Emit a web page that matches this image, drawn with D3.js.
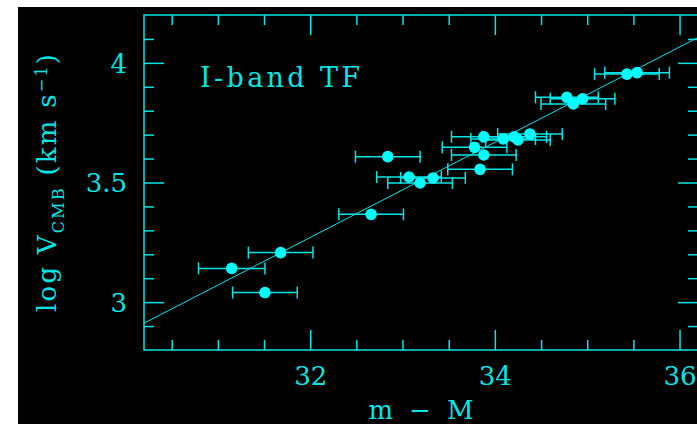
<!DOCTYPE html>
<html>
<head>
<meta charset="utf-8">
<script src="https://cdn.jsdelivr.net/npm/d3@7"></script>
<style>
  body { margin: 0; background: #fff; }
  svg { display: block; }
</style>
</head>
<body>
<div id="chart"></div>
<script>
// distance modulus (m - M) of each galaxy
var distMod = [31.15, 31.68, 31.51, 32.66, 32.84, 33.07, 33.19, 33.33, 33.78, 33.88, 33.88,
               33.84, 34.09, 34.21, 34.25, 34.38, 34.78, 34.85, 34.95, 35.43, 35.54];
// log V_CMB
var logV = [3.141, 3.207, 3.040, 3.367, 3.608, 3.523, 3.498, 3.519, 3.647, 3.691, 3.615,
            3.555, 3.682, 3.691, 3.678, 3.703, 3.856, 3.828, 3.850, 3.953, 3.959];
// error in m - M
var distErr = [0.36, 0.35, 0.35, 0.35, 0.35, 0.35, 0.35, 0.35, 0.35, 0.35, 0.35,
               0.35, 0.35, 0.35, 0.35, 0.35, 0.34, 0.35, 0.35, 0.35, 0.35];

// fitted TF line end points
var fitX = [30.2, 36.2];
var fitY = [2.912, 4.106];

var xMajorTicks = [32, 34, 36];
var xMinorTicks = [30.5, 31, 31.5, 32.5, 33, 33.5, 34.5, 35, 35.5];
var yMajorTicks = [3, 3.5, 4];
var yMinorTicks = [2.9, 3.1, 3.2, 3.3, 3.4, 3.6, 3.7, 3.8, 3.9, 4.1];

var W = 697, H = 424;
var margin = { top: 15, right: -1, bottom: 74, left: 144 },
    width = W - margin.left - margin.right,
    height = H - margin.top - margin.bottom;

var cyan = "#00e6e6", dotCol = "#00ffff";
var font = "'DejaVu Serif', serif";

var svg = d3.select("#chart").append("svg")
    .attr("width", W)
    .attr("height", H);

svg.append("rect")
    .attr("x", 18).attr("y", 7)
    .attr("width", W - 18).attr("height", H - 7)
    .attr("fill", "#000");

var g = svg.append("g")
    .attr("transform", "translate(" + margin.left + "," + margin.top + ")");

var x = d3.scaleLinear().domain([30.2, 36.2]).range([0, width]);
var y = d3.scaleLinear().domain([2.8, 4.2]).range([height, 0]);

function styleAxis(sel) {
    sel.select(".domain").remove();
    sel.selectAll("line").attr("stroke", cyan).attr("stroke-width", 1.5);
    sel.selectAll("text").attr("fill", cyan).style("font-family", font).style("font-size", "26px");
}

// bottom
g.append("g").attr("transform", "translate(0," + height + ")")
    .call(d3.axisBottom(x).tickValues(xMajorTicks).tickSizeInner(-20).tickSizeOuter(0)
        .tickPadding(10).tickFormat(d3.format("d")))
    .call(styleAxis)
    .selectAll("text").attr("dy", "0").attr("y", 35);
g.append("g").attr("transform", "translate(0," + height + ")")
    .call(d3.axisBottom(x).tickValues(xMinorTicks).tickSizeInner(-10).tickSizeOuter(0).tickFormat(""))
    .call(styleAxis);
// top
g.append("g")
    .call(d3.axisTop(x).tickValues(xMajorTicks).tickSizeInner(-20).tickSizeOuter(0).tickFormat(""))
    .call(styleAxis);
g.append("g")
    .call(d3.axisTop(x).tickValues(xMinorTicks).tickSizeInner(-10).tickSizeOuter(0).tickFormat(""))
    .call(styleAxis);
// left
g.append("g")
    .call(d3.axisLeft(y).tickValues(yMajorTicks).tickSizeInner(-20).tickSizeOuter(0)
        .tickPadding(17).tickFormat(d3.format("")))
    .call(styleAxis)
    .selectAll("text").attr("dy", "0.36em");
g.append("g")
    .call(d3.axisLeft(y).tickValues(yMinorTicks).tickSizeInner(-10).tickSizeOuter(0).tickFormat(""))
    .call(styleAxis);
// right
g.append("g").attr("transform", "translate(" + width + ",0)")
    .call(d3.axisRight(y).tickValues(yMajorTicks).tickSizeInner(-20).tickSizeOuter(0).tickFormat(""))
    .call(styleAxis);
g.append("g").attr("transform", "translate(" + width + ",0)")
    .call(d3.axisRight(y).tickValues(yMinorTicks).tickSizeInner(-10).tickSizeOuter(0).tickFormat(""))
    .call(styleAxis);

// frame
g.append("rect")
    .attr("width", width).attr("height", height)
    .attr("fill", "none").attr("stroke", cyan).attr("stroke-width", 1.5);

// fit line
g.append("line")
    .attr("x1", x(fitX[0])).attr("y1", y(fitY[0]))
    .attr("x2", x(fitX[1])).attr("y2", y(fitY[1]))
    .attr("stroke", cyan).attr("stroke-width", 1);

var pts = distMod.map(function (d, i) { return { m: d, v: logV[i], e: distErr[i] }; });

var bars = g.append("g").selectAll("g").data(pts).enter().append("g")
    .attr("stroke", cyan).attr("stroke-width", 1.5);
bars.append("line")
    .attr("x1", d => x(d.m - d.e)).attr("x2", d => x(d.m + d.e))
    .attr("y1", d => y(d.v)).attr("y2", d => y(d.v));
bars.append("line")
    .attr("x1", d => x(d.m - d.e)).attr("x2", d => x(d.m - d.e))
    .attr("y1", d => y(d.v) - 6).attr("y2", d => y(d.v) + 6);
bars.append("line")
    .attr("x1", d => x(d.m + d.e)).attr("x2", d => x(d.m + d.e))
    .attr("y1", d => y(d.v) - 6).attr("y2", d => y(d.v) + 6);

g.append("g").selectAll("circle").data(pts).enter().append("circle")
    .attr("cx", d => x(d.m)).attr("cy", d => y(d.v))
    .attr("r", 5.8).attr("fill", dotCol);

// label
g.append("text")
    .attr("x", 200 - margin.left).attr("y", 87 - margin.top)
    .attr("textLength", 160).attr("lengthAdjust", "spacing")
    .attr("fill", cyan).style("font-family", font).style("font-size", "27px")
    .text("I-band TF");

// x title
svg.append("text")
    .attr("x", 421).attr("y", 419)
    .attr("text-anchor", "middle")
    .attr("textLength", 105).attr("lengthAdjust", "spacing")
    .attr("fill", cyan).style("font-family", font).style("font-size", "26px")
    .text("m \u2212 M");

// y title
var yt = svg.append("text")
    .attr("transform", "translate(56,183) rotate(-90)")
    .attr("text-anchor", "middle")
    .attr("textLength", 258).attr("lengthAdjust", "spacing")
    .attr("fill", cyan).style("font-family", font).style("font-size", "26px");
yt.append("tspan").text("log V");
yt.append("tspan").attr("dy", 8).style("font-size", "16px").text("CMB");
yt.append("tspan").attr("dy", -8).text(" (km s");
yt.append("tspan").attr("dy", -9).style("font-size", "16px").text("\u22121");
yt.append("tspan").attr("dy", 9).text(")");
</script>
</body>
</html>
